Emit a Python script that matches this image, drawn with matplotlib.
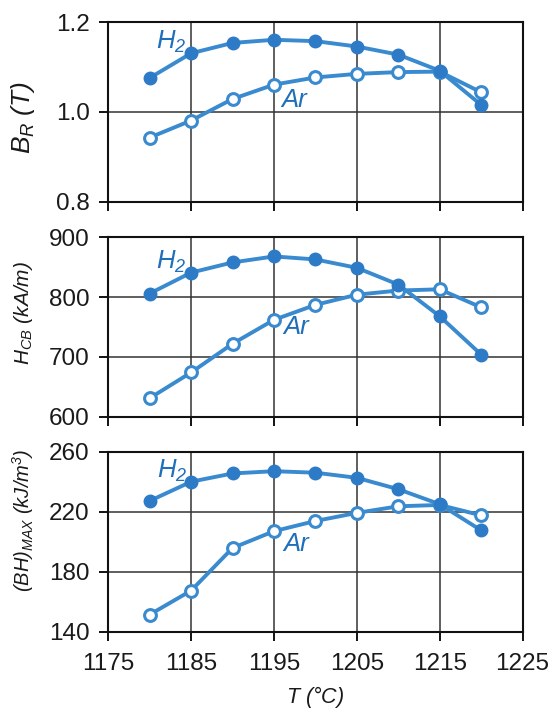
import matplotlib
matplotlib.use("Agg")
import matplotlib.pyplot as plt
from matplotlib import font_manager

names = {f.name for f in font_manager.fontManager.ttflist}
FAM = "Liberation Sans Narrow" if "Liberation Sans Narrow" in names else "Liberation Sans"

plt.rcParams["font.family"] = [FAM, "DejaVu Sans"]
plt.rcParams["mathtext.fontset"] = "custom"
plt.rcParams["mathtext.it"] = FAM + ":italic"
plt.rcParams["mathtext.rm"] = FAM + ":italic"
plt.rcParams["mathtext.sf"] = FAM + ":italic"

# ---- data ----
temps = [1180, 1185, 1190, 1195, 1200, 1205, 1210, 1215, 1220]

br_h2 = [1.076, 1.131, 1.154, 1.161, 1.158, 1.146, 1.128, 1.092, 1.016]
br_ar = [0.943, 0.981, 1.029, 1.061, 1.077, 1.085, 1.089, 1.090, 1.044]

hcb_h2 = [806, 841, 858, 868, 863, 849, 821, 768, 704]
hcb_ar = [631, 674, 722, 762, 787, 804, 811, 813, 783]

bh_h2 = [227.2, 240.0, 245.5, 247.0, 246.0, 242.6, 235.0, 225.0, 207.6]
bh_ar = [151.4, 167.4, 195.8, 207.0, 213.8, 219.2, 223.6, 224.5, 217.6]

x_ticks = [1175, 1185, 1195, 1205, 1215, 1225]
br_ticks = [0.8, 1.0, 1.2]
hcb_ticks = [600, 700, 800, 900]
bh_ticks = [140, 180, 220, 260]

ylabels = [r"$B_{R}$ (T)", r"$H_{CB}$ (kA/m)", r"$(BH)_{MAX}$ (kJ/m$^{3}$)"]
ylabel_sizes = [19, 15, 14.5]
ylabel_ypos = [0.47, 0.58, 0.62]
xlabel = r"$T$ (°C)"

LINE = "#3a8ad0"
FILL = "#2d7bc6"
TXT = "#1f6fba"

fig = plt.figure(figsize=(5.5, 7.11), dpi=100)
W, H = 550.0, 711.0
left, right = 108.3, 522.5
panels = [(22.3, 201.7), (237.3, 416.7), (451.7, 631.7)]

series = [(br_h2, br_ar, br_ticks, "%.1f"),
          (hcb_h2, hcb_ar, hcb_ticks, "%d"),
          (bh_h2, bh_ar, bh_ticks, "%d")]

label_pos = [((1182.6, 1.156), (1197.4, 1.027)),
             ((1182.6, 859), (1197.7, 750)),
             ((1182.7, 247.5), (1197.7, 198.7))]

axes = []
for i, ((top, bot), (h2, ar, yt, fmt)) in enumerate(zip(panels, series)):
    ax = fig.add_axes([left / W, 1 - bot / H, (right - left) / W, (bot - top) / H])
    axes.append(ax)
    ax.plot(temps, h2, color=LINE, lw=2.8, marker="o", ms=9,
            mfc=FILL, mec=FILL, zorder=4, solid_capstyle="round")
    ax.plot(temps, ar, color=LINE, lw=2.8, marker="o", ms=8.5,
            mfc="white", mec=LINE, mew=2.2, zorder=3, solid_capstyle="round")
    ax.set_xlim(1175, 1225)
    ax.set_ylim(yt[0], yt[-1])
    ax.set_xticks(x_ticks)
    ax.set_yticks(yt)
    ax.set_yticklabels([fmt % v for v in yt])
    ax.grid(True, color="#333333", lw=1.1)
    ax.set_axisbelow(True)
    for s in ax.spines.values():
        s.set_color("#111111")
        s.set_linewidth(1.5)
    ax.tick_params(direction="out", length=6.5, width=1.4, color="#111111",
                   labelsize=17.5, labelcolor="#1a1a1a", pad=7)
    ax.tick_params(axis="x", pad=9)
    if i < 2:
        ax.tick_params(axis="x", labelbottom=False)
    ax.set_ylabel(ylabels[i], fontsize=ylabel_sizes[i], style="italic",
                  color="#1a1a1a", va="center")
    ax.yaxis.set_label_coords(-0.205, ylabel_ypos[i])
    (hx, hy), (ax_, ay) = label_pos[i]
    ax.text(hx, hy, r"$H_{2}$", fontsize=18.5, color=TXT, ha="center",
            va="center", zorder=6)
    ax.text(ax_, ay, "Ar", fontsize=18.5, color=TXT, ha="center", va="center",
            style="italic", zorder=6)

axes[-1].set_xlabel(xlabel, fontsize=15.5, style="italic", color="#1a1a1a",
                    labelpad=6)

fig.savefig("out.png", dpi=100, facecolor="white")
